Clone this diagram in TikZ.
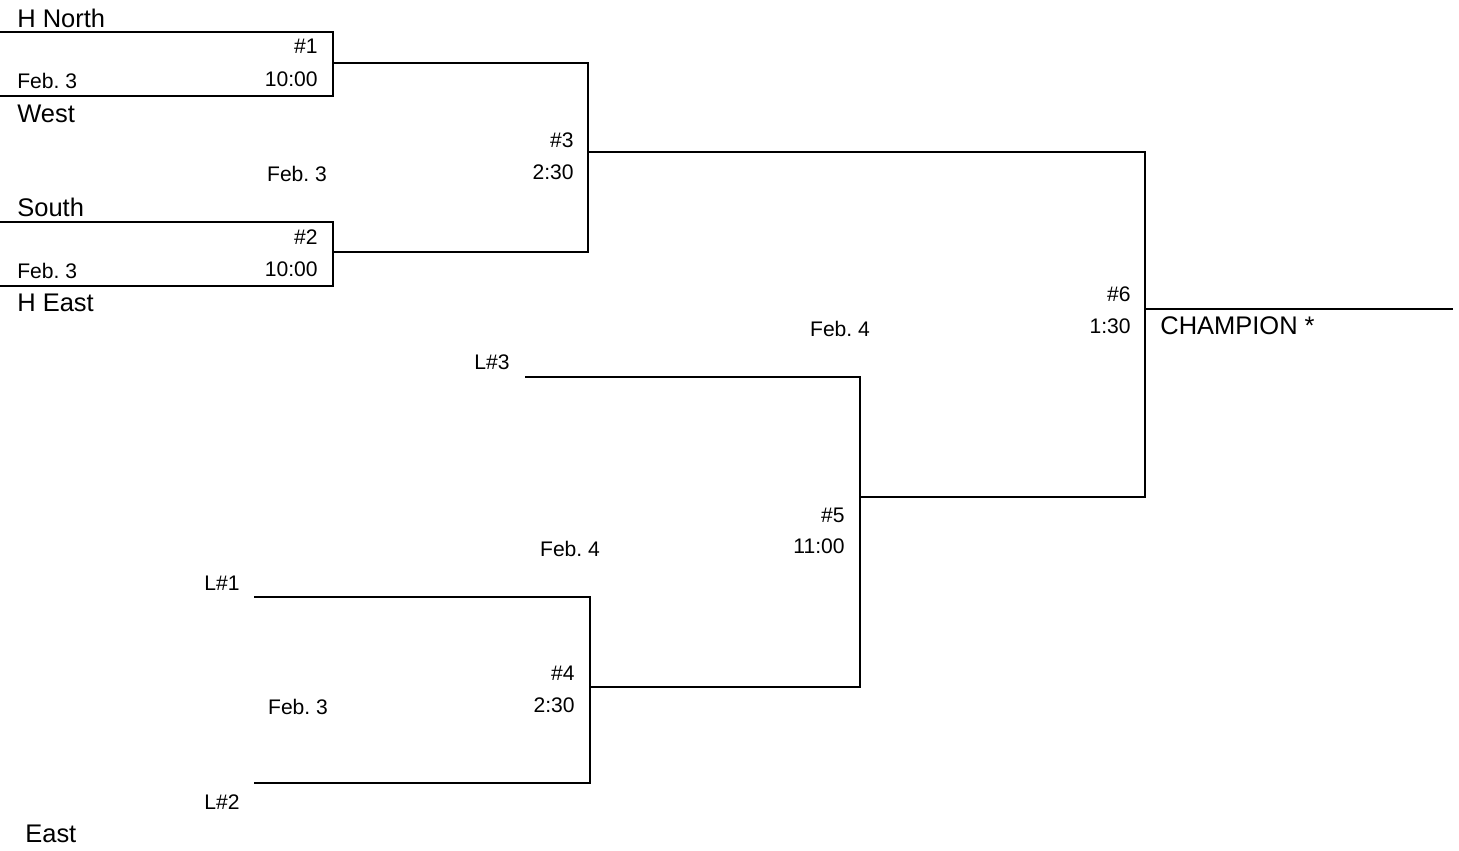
\documentclass[tikz,border=0pt]{standalone}
\usepackage{fontspec}
\setmainfont{Liberation Sans}
\usetikzlibrary{calc}
\frenchspacing

\tikzset{
  team/.style={anchor=west, inner sep=0pt, font=\fontsize{14.5}{16}\selectfont},
  info/.style={inner sep=0pt, font=\fontsize{12}{14}\selectfont},
  bracket/.style={line width=0.9pt}
}

\begin{document}
\begin{tikzpicture}[x=0.02cm, y=-0.02cm]
    \useasboundingbox (0,0) rectangle (1459,850);
    % teams
    \node[team] at (17,18) (HN) {H North};
    \node[team] at (17,114) (WE) {West};
    \node[team] at (17,207) (SO) {South};
    \node[team] at (17,303) (HE) {H East};
    \node[team] at (25,834) (EA) {East};
    \node[team] at (1160,326) (CHP) {CHAMPION *};
    \node[info] at (492,362) (L3) {L\#3};
    \node[info] at (222,583) (L1) {L\#1};
    \node[info] at (222,802) (L2) {L\#2};
    % games
    \node[info, anchor=east] at (318,46) (G1N) {\#1};
    \node[info, anchor=east] at (318,79) (G1T) {10:00};
    \node[info, anchor=west] at (17,81) (G1D) {Feb. 3};
    \node[info, anchor=east] at (318,237) (G2N) {\#2};
    \node[info, anchor=east] at (318,269) (G2T) {10:00};
    \node[info, anchor=west] at (17,271) (G2D) {Feb. 3};
    \node[info, anchor=east] at (574,140) (G3N) {\#3};
    \node[info, anchor=east] at (574,172) (G3T) {2:30};
    \node[info] at (297,174) (G3D) {Feb. 3};
    \node[info, anchor=east] at (575,673) (G4N) {\#4};
    \node[info, anchor=east] at (575,705) (G4T) {2:30};
    \node[info] at (298,707) (G4D) {Feb. 3};
    \node[info, anchor=east] at (845,515) (G5N) {\#5};
    \node[info, anchor=east] at (845,546) (G5T) {11:00};
    \node[info] at (570,549) (G5D) {Feb. 4};
    \node[info, anchor=east] at (1131,294) (G6N) {\#6};
    \node[info, anchor=east] at (1131,326) (G6T) {1:30};
    \node[info] at (840,329) (G6D) {Feb. 4};
    % bracket ends
    \coordinate (G1A) at (0,32);   \coordinate (G1B) at (0,96);   \coordinate (G1R) at (333,63);
    \coordinate (G2A) at (0,222);  \coordinate (G2B) at (0,286);  \coordinate (G2R) at (333,252);
    \coordinate (G3R) at (588,152);
    \coordinate (L3E) at (525,377);
    \coordinate (L1E) at (254,597);
    \coordinate (L2E) at (254,783);
    \coordinate (G4R) at (590,687);
    \coordinate (G5R) at (860,497);
    \coordinate (G6R) at (1145,309);
    \coordinate (CHE) at (1453,309);
    \draw[bracket] (G1A) -| (G1R) |- (G1B);
    \draw[bracket] (G2A) -| (G2R) |- (G2B);
    \draw[bracket] (G1R) -| (G3R) |- (G2R);
    \draw[bracket] (L1E) -| (G4R) |- (L2E);
    \draw[bracket] (L3E) -| (G5R) |- (G4R);
    \draw[bracket] (G3R) -| (G6R) |- (G5R);
    \draw[bracket] (G6R) -- (CHE);
\end{tikzpicture}
\end{document}
